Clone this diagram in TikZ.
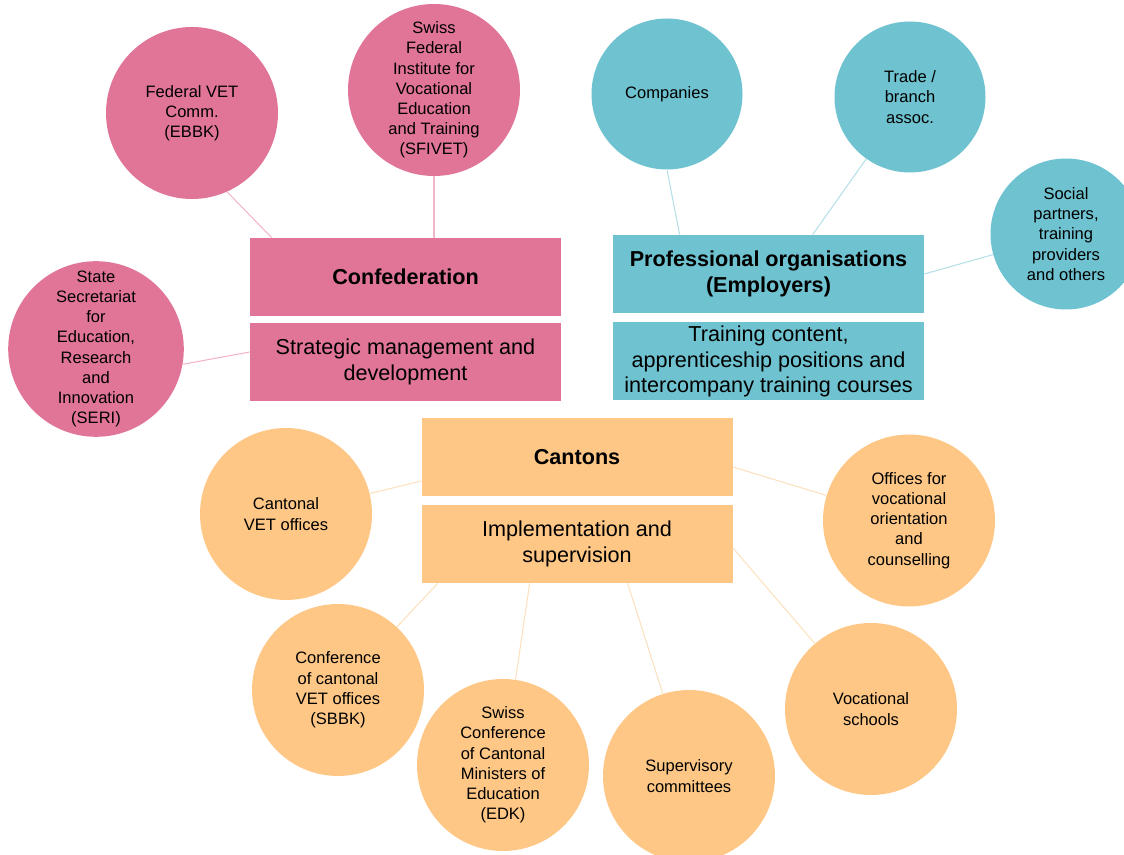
\documentclass[tikz,border=0pt]{standalone}
\usepackage{fontspec}
\setmainfont{Liberation Sans}
\usetikzlibrary{positioning}

\definecolor{confpink}{HTML}{E07598}
\definecolor{conflink}{HTML}{F2B6C9}
\definecolor{profteal}{HTML}{6FC2CF}
\definecolor{proflink}{HTML}{B4E0E7}
\definecolor{cantorange}{HTML}{FEC786}
\definecolor{cantlink}{HTML}{FDE1BF}

\tikzset{
  bubble/.style={circle,minimum size=3.44cm,inner sep=0pt,align=center,
    font=\fontsize{9.4}{11.5}\selectfont},
  smallbubble/.style={bubble,minimum size=3.02cm},
  headbox/.style={rectangle,minimum width=6.22cm,minimum height=1.56cm,inner sep=0pt,
    align=center,font=\fontsize{12.3}{14.6}\selectfont\bfseries},
  taskbox/.style={headbox,font=\fontsize{12.3}{14.6}\selectfont},
  link/.style={line width=0.6pt},
}

\begin{document}
\begin{tikzpicture}[on grid]
      \useasboundingbox (0,0) rectangle (22.48,-17.1);
      % Confederation
      \node[headbox,fill=confpink](confed) at (8.11,-5.54){Confederation};
      \node[taskbox,fill=confpink,below=1.7cm of confed](strat){Strategic management and\\development};
      \node[bubble,fill=confpink,above left=3.28cm and 4.27cm of confed](fedvet){Federal VET\\Comm.\\(EBBK)};
      \node[bubble,fill=confpink,above right=3.74cm and 0.57cm of confed](sfivet){Swiss\\Federal\\Institute for\\Vocational\\Education\\and Training\\(SFIVET)};
      \node[bubble,fill=confpink,above left=0.26cm and 6.19cm of strat](seri){State\\Secretariat\\for\\Education,\\Research\\and\\Innovation\\(SERI)};
      % Professional organisations
      \node[headbox,fill=profteal](prof) at (15.37,-5.48){Professional organisations\\(Employers)};
      \node[taskbox,fill=profteal,below=1.75cm of prof](train){Training content,\\apprenticeship positions and\\intercompany training courses};
      \node[smallbubble,fill=profteal,above left=3.6cm and 2.03cm of prof](companies){Companies};
      \node[smallbubble,fill=profteal,above right=3.54cm and 2.83cm of prof](trade){Trade /\\branch\\assoc.};
      \node[smallbubble,fill=profteal,above right=0.8cm and 5.95cm of prof](social){Social\\partners,\\training\\providers\\and others};
      % Cantons
      \node[headbox,fill=cantorange](cantons) at (11.54,-9.15){Cantons};
      \node[taskbox,fill=cantorange,below=1.73cm of cantons](impl){Implementation and\\supervision};
      \node[bubble,fill=cantorange,below left=1.13cm and 5.82cm of cantons](cantvet){Cantonal\\VET offices};
      \node[bubble,fill=cantorange,below right=1.26cm and 6.64cm of cantons](orient){Offices for\\vocational\\orientation\\and\\counselling};
      \node[bubble,fill=cantorange,below left=2.92cm and 4.78cm of impl](sbbk){Conference\\of cantonal\\VET offices\\(SBBK)};
      \node[bubble,fill=cantorange,below left=4.42cm and 1.48cm of impl](edk){Swiss\\Conference\\of Cantonal\\Ministers of\\Education\\(EDK)};
      \node[bubble,fill=cantorange,below right=4.64cm and 2.24cm of impl](superv){Supervisory\\committees};
      \node[bubble,fill=cantorange,below right=3.3cm and 5.88cm of impl](schools){Vocational\\schools};

      \path[link,conflink]
        (fedvet.-66) edge ([xshift=0.44cm]confed.north west)
        (sfivet) edge (sfivet |- confed.north)
        (seri.-10) edge ([yshift=0.2cm]strat.west)
      ;
      \path[link,proflink]
        (companies.south) edge ([xshift=1.34cm]prof.north west)
        (trade) edge ([xshift=4cm]prof.north west)
        (social) edge (prof.east)
      ;
      \path[link,cantlink]
        (cantvet) edge ([yshift=-0.47cm]cantons.west)
        ([yshift=-0.19cm]cantons.east) edge (orient)
        ([xshift=0.33cm]impl.south west) edge (sbbk)
        ([xshift=2.17cm]impl.south west) edge (edk)
        ([xshift=4.13cm]impl.south west) edge (superv)
        ([yshift=-0.08cm]impl.east) edge (schools)
      ;
    \end{tikzpicture}
\end{document}
